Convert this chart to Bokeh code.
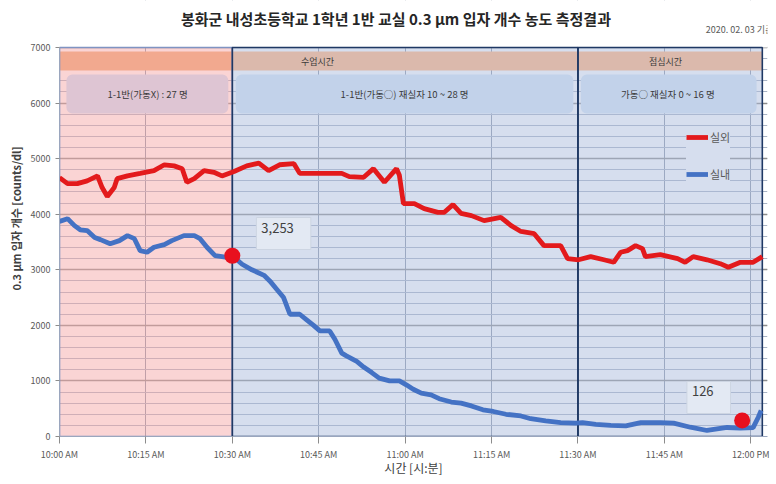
from bokeh.plotting import figure
from bokeh.models import FixedTicker, SingleIntervalTicker, Label, BoxAnnotation
from bokeh.embed import file_html
from bokeh.resources import INLINE

FONT = "Noto Sans CJK KR"

# ---- data (time = minutes after 10:00 AM) ----
outdoor_t = [0, 1.4, 3.1, 4.8, 6.6, 7.4, 8.3, 9.5, 10.0, 11.8, 14.0, 16.4, 18.2, 19.9, 21.3, 22.1,
             23.4, 25.1, 26.8, 28.2, 30.3, 32.5, 34.6, 36.3, 38.2, 40.7, 41.7, 49.0, 50.3, 52.8,
             54.5, 56.4, 58.5, 59.0, 59.7, 61.6, 63.3, 65.7, 66.8, 68.3, 69.7, 71.5, 73.7, 76.6,
             78.4, 80.1, 82.4, 84.1, 87.0, 88.2, 90.1, 92.2, 94.5, 96.2, 97.4, 98.6, 100.0, 101.2,
             101.7, 104.3, 107.3, 108.6, 110.0, 112.4, 114.7, 116.1, 118.2, 120.4, 122.0]
outdoor_v = [4660, 4550, 4550, 4600, 4690, 4480, 4320, 4480, 4640, 4690, 4735, 4785, 4890, 4870,
             4820, 4575, 4640, 4785, 4755, 4690, 4770, 4870, 4920, 4785, 4890, 4910, 4735, 4735,
             4676, 4664, 4820, 4575, 4820, 4700, 4190, 4190, 4100, 4034, 4034, 4173, 4016, 3975,
             3885, 3945, 3795, 3690, 3650, 3435, 3435, 3200, 3180, 3237, 3180, 3135, 3315, 3345,
             3435, 3380, 3237, 3273, 3200, 3135, 3237, 3180, 3110, 3045, 3135, 3135, 3237]

indoor_t = [0, 1.4, 2.6, 3.6, 4.8, 6.1, 7.1, 8.8, 10.4, 11.8, 13.0, 14.0, 15.2, 16.4, 18.2, 19.5,
            21.6, 23.4, 24.4, 25.6, 27.0, 29.1, 30.0, 31.7, 33.4, 35.5, 36.5, 37.7, 38.9, 40.0,
            41.7, 42.9, 44.1, 45.2, 46.9, 47.8, 49.0, 49.8, 51.6, 52.8, 54.2, 55.5, 57.3, 59.0,
            60.2, 61.4, 62.8, 64.5, 65.9, 68.0, 69.7, 71.5, 73.5, 75.3, 77.5, 80.1, 81.8, 84.4,
            87.0, 89.6, 90.8, 93.1, 95.7, 98.3, 100.9, 104.3, 106.6, 109.5, 112.4, 115.9, 118.2,
            120.4, 121.3, 121.8]
indoor_v = [3870, 3920, 3795, 3720, 3705, 3580, 3543, 3470, 3525, 3615, 3560, 3345, 3315, 3405,
            3453, 3525, 3615, 3615, 3560, 3405, 3255, 3225, 3253, 3100, 3000, 2900, 2800, 2650,
            2500, 2200, 2200, 2100, 2000, 1900, 1900, 1750, 1500, 1450, 1350, 1250, 1150, 1050,
            1000, 1000, 930, 850, 780, 750, 680, 620, 600, 550, 480, 450, 400, 370, 320, 280, 250,
            240, 250, 220, 200, 190, 250, 250, 240, 167, 108, 162, 150, 160, 347, 468]

tick_minutes = [0, 15, 30, 45, 60, 75, 90, 105, 120]
tick_labels = ["10:00 AM", "10:15 AM", "10:30 AM", "10:45 AM", "11:00 AM",
               "11:15 AM", "11:30 AM", "11:45 AM", "12:00 PM"]

period_start = [0, 30, 90]
period_end = [30, 90, 122]
period_fill = ["#F5A9A9", "#AEBEDD", "#AEBEDD"]
period_edge = ["#7F93C2", "#1F3864", "#1F3864"]
band_fill = ["#F2A98F", "#DBB9AC", "#DBB9AC"]
band_bottom, band_top = 6586, 6928
period_titles = ["수업시간", "점심시간"]
period_title_t = [44.8, 105.2]
period_title_v = 6757

note_left = [1.2, 30.6, 90.5]
note_right = [29.3, 89.2, 121.0]
note_bottom, note_top = 5813, 6514
note_fill = ["#DEC5D3", "#C2D2EA", "#C2D2EA"]
notes = ["1-1반(가동X) : 27 명", "1-1반(가동○) 재실자 10 ~ 28 명", "가동○ 재실자 0 ~ 16 명"]
note_t = [15.3, 59.9, 105.6]
note_v = 6163

marker_t = [30.0, 118.5]
marker_v = [3253, 290]
marker_text = ["3,253", "126"]
marker_text_t = [38.9, 112.7]
marker_text_v = [3653, 702]

title_text = "봉화군 내성초등학교 1학년 1반 교실 0.3 μm 입자  개수 농도 측정결과"
title_pos = (58.7, 7522)
date_text = "2020. 02. 03 기준"
date_pos = (112.2, 7324)

X_END = 122.9
Y_MAX = 7000
Y_TOP = 7846   # space above the plot area that holds the title

# ---- figure ----
p = figure(width=776, height=484, output_backend="svg", toolbar_location=None,
           x_range=(0, X_END), y_range=(0, Y_TOP),
           min_border_left=59, min_border_right=9, min_border_top=0, min_border_bottom=48)
p.background_fill_color = "white"
p.border_fill_color = "white"
p.outline_line_color = None

# white cover above the plot area (hides grid there)
p.quad(left=[0], right=[X_END], bottom=[Y_MAX], top=[Y_TOP], fill_color="white", line_color=None)

# regions
p.quad(left=period_start, right=period_end, bottom=0, top=Y_MAX,
       fill_color=period_fill, fill_alpha=0.5, line_color=None)
p.quad(left=period_start, right=period_end, bottom=band_bottom, top=band_top,
       fill_color=band_fill, line_color=None)
p.quad(left=period_start, right=period_end, bottom=0, top=Y_MAX,
       fill_color=None, line_color=period_edge, line_width=1.6)

# axes & grid
p.xaxis.ticker = FixedTicker(ticks=tick_minutes)
p.xaxis.major_label_overrides = {m: l for m, l in zip(tick_minutes, tick_labels)}
p.yaxis.ticker = SingleIntervalTicker(interval=1000, num_minor_ticks=5)
p.yaxis.bounds = (0, Y_MAX)
p.xgrid.ticker = FixedTicker(ticks=tick_minutes)
p.xgrid.grid_line_color = "#8A94A6"
p.xgrid.grid_line_width = 1
p.ygrid.grid_line_color = "#8C8C8C"
p.ygrid.grid_line_width = 1.5
p.ygrid.minor_grid_line_color = "#A9B3C4"
p.ygrid.minor_grid_line_width = 1

for ax in (p.xaxis[0], p.yaxis[0]):
    ax.major_label_text_font = FONT
    ax.major_label_text_font_size = "9px"
    ax.major_label_text_color = "#595959"
    ax.axis_label_text_font = FONT
    ax.axis_label_text_color = "#404040"
    ax.minor_tick_line_color = None
    ax.major_tick_in = 0
    ax.axis_line_color = "#9AA6BE"
    ax.major_tick_line_color = "#8C8C8C"

p.xaxis.major_tick_out = 7
p.xaxis.major_label_standoff = 4
p.xaxis.axis_label = "시간 [시:분]"
p.xaxis.axis_label_text_font_size = "12px"
p.xaxis.axis_label_text_font_style = "normal"
p.xaxis.axis_label_standoff = -5

p.yaxis.major_tick_out = 4
p.yaxis.major_label_standoff = 5
p.yaxis.axis_label = "0.3 μm 입자 개수 [counts/dl]"
p.yaxis.axis_label_text_font_size = "11px"
p.yaxis.axis_label_text_font_style = "bold"
p.yaxis.axis_label_standoff = 4

# lines
p.line(outdoor_t, outdoor_v, line_color="#E31A1C", line_width=4.8, legend_label="실외")
p.line(indoor_t, indoor_v, line_color="#4472C4", line_width=4.8, legend_label="실내")
p.scatter(marker_t, marker_v, size=16, fill_color="#E8101E", line_color=None)

leg = p.legend[0]
leg.location = (627, 252)
leg.background_fill_color = "#D6DEEE"
leg.background_fill_alpha = 1
leg.border_line_color = None
leg.label_text_font = FONT
leg.label_text_font_size = "11px"
leg.label_text_color = "#595959"
leg.glyph_width = 22
leg.glyph_height = 20
leg.label_height = 20
leg.spacing = 17
leg.padding = 5
leg.margin = 0
leg.label_standoff = 2

# rounded note boxes
for l, r, c in zip(note_left, note_right, note_fill):
    p.add_layout(BoxAnnotation(left=l, right=r, bottom=note_bottom, top=note_top,
                               fill_color=c, fill_alpha=1, line_color=None, border_radius=6))

for t, txt in zip(period_title_t, period_titles):
    p.add_layout(Label(x=t, y=period_title_v, text=txt, text_font=FONT, text_font_size="9px",
                       text_color="#3A3A3A", text_align="center", text_baseline="middle"))
for t, txt in zip(note_t, notes):
    p.add_layout(Label(x=t, y=note_v, text=txt, text_font=FONT, text_font_size="9.5px",
                       text_color="#3A3A3A", text_align="center", text_baseline="middle"))

for t, v, txt in zip(marker_text_t, marker_text_v, marker_text):
    p.add_layout(Label(x=t, y=v, text=txt, text_font=FONT, text_font_size="13px",
                       text_color="#404040", text_align="center", text_baseline="middle",
                       background_fill_color="#E3E9F3", background_fill_alpha=1,
                       border_line_color="#CDD5E2", border_line_width=1,
                       padding=(5, 17, 5, 17)))

p.add_layout(Label(x=title_pos[0], y=title_pos[1], text=title_text, text_font=FONT,
                   text_font_size="15px", text_font_style="bold", text_color="#262626",
                   text_align="center", text_baseline="middle"))
p.add_layout(Label(x=date_pos[0], y=date_pos[1], text=date_text, text_font=FONT,
                   text_font_size="9px", text_color="#595959", text_align="left",
                   text_baseline="middle"))

open("out.html", "w").write(file_html(p, INLINE))
